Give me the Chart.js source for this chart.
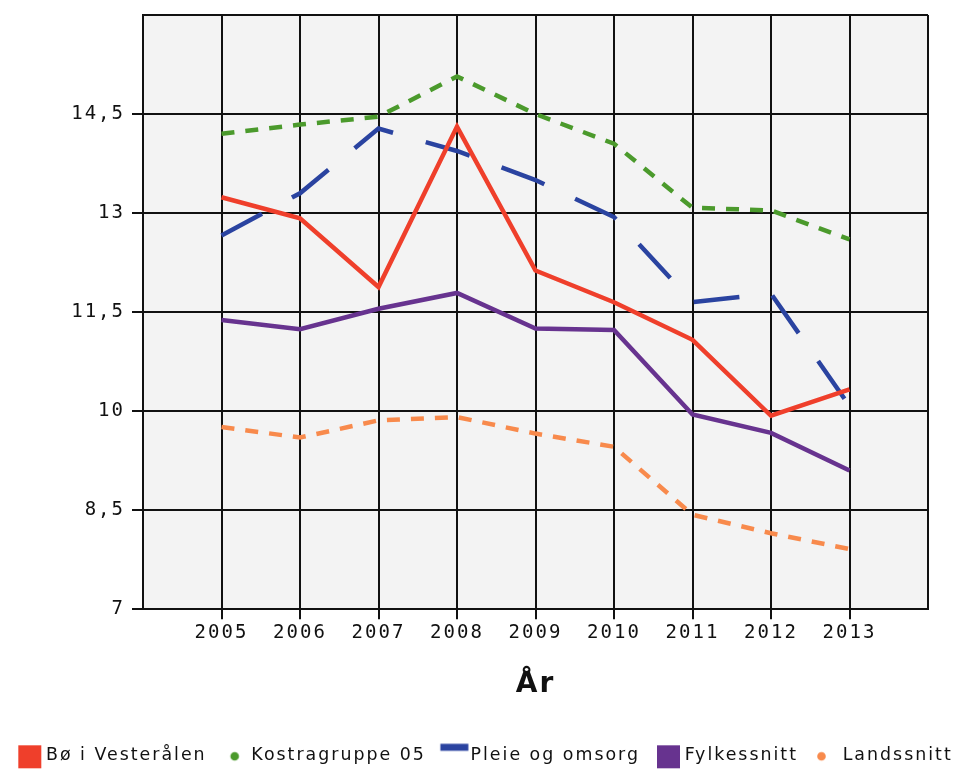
<!DOCTYPE html>
<html>
<head>
<meta charset="utf-8">
<title>År</title>
<script src="https://cdn.jsdelivr.net/npm/chart.js@4.4.0/dist/chart.umd.min.js"></script>
<style>
  html, body { margin: 0; padding: 0; background: #fff; }
  #wrap { width: 958px; height: 774px; }
</style>
</head>
<body>
<div id="wrap"><canvas id="myChart" width="958" height="774"></canvas></div>
<script>
// -- ** data ** -- \\
const years = [2005, 2006, 2007, 2008, 2009, 2010, 2011, 2012, 2013];
const boVesteralen = [13.24, 12.92, 11.88, 14.31, 12.13, 11.65, 11.08, 9.93, 10.33];
const kostragruppe05 = [14.20, 14.34, 14.46, 15.07, 14.50, 14.05, 13.08, 13.04, 12.60];
const pleieOmsorg = [12.66, 13.30, 14.28, 13.94, 13.50, 12.94, 11.65, 11.78, 10.08];
const fylkessnitt = [11.38, 11.24, 11.55, 11.79, 11.25, 11.23, 9.95, 9.67, 9.10];
const landssnitt = [9.76, 9.60, 9.86, 9.91, 9.66, 9.46, 8.43, 8.15, 7.91];
const seriesNames = ['Bø i Vesterålen', 'Kostragruppe 05', 'Pleie og omsorg', 'Fylkessnitt', 'Landssnitt'];
const xTickValues = [2004, 2005, 2006, 2007, 2008, 2009, 2010, 2011, 2012, 2013, 2014];
const yTickValues = [7, 8.5, 10, 11.5, 13, 14.5, 16];
const xTitle = 'År';

const inkColor = '#111';
const gridColor = '#111';

// -- ** legend markers ** -- \\
function makeMarker(kind, color) {
  const c = document.createElement('canvas');
  c.width = 64;
  c.height = 32;
  const g = c.getContext('2d');
  g.fillStyle = color;
  if (kind === 'square') {
    g.fillRect(29, 6, 23, 23);
  } else if (kind === 'bar') {
    g.fillRect(26.5, 4.5, 28, 7);
  } else {
    g.beginPath();
    g.arc(kind === 'dot1' ? 40 : 35.5, 17, 4.3, 0, Math.PI * 2);
    g.fill();
  }
  return c;
}

function points(values) {
  return years.map((yr, i) => ({ x: yr, y: values[i] }));
}

const colors = ['#ef3f2b', '#4b9a2c', '#2a43a0', '#67338f', '#f88a4c'];
const markers = [
  makeMarker('square', colors[0]),
  makeMarker('dot1', colors[1]),
  makeMarker('bar', colors[2]),
  makeMarker('square', colors[3]),
  makeMarker('dot2', colors[4])
];

const datasets = {
  datasets: [
    { label: seriesNames[0], data: points(boVesteralen), borderColor: colors[0] },
    { label: seriesNames[1], data: points(kostragruppe05), borderColor: colors[1], borderDash: [13, 11] },
    { label: seriesNames[2], data: points(pleieOmsorg), borderColor: colors[2], borderDash: [46, 34] },
    { label: seriesNames[3], data: points(fylkessnitt), borderColor: colors[3] },
    { label: seriesNames[4], data: points(landssnitt), borderColor: colors[4], borderDash: [13, 11] }
  ].map(ds => Object.assign({
    borderWidth: 4.5,
    pointRadius: 0,
    tension: 0,
    fill: false,
    borderJoinStyle: 'miter',
    backgroundColor: ds.borderColor
  }, ds))
};

// -- ** plot background + letter spacing ** -- \\
const plotLook = {
  id: 'plotLook',
  beforeLayout(chart) {
    chart.ctx.letterSpacing = '2px';
  },
  beforeDraw(chart) {
    const { ctx, chartArea: a } = chart;
    ctx.letterSpacing = '2px';
    ctx.save();
    ctx.fillStyle = '#f3f3f3';
    ctx.fillRect(a.left, a.top, a.right - a.left, a.bottom - a.top);
    ctx.restore();
  }
};

const tickFont = { family: 'DejaVu Sans Mono', size: 19 };

const config = {
  type: 'line',
  data: datasets,
  plugins: [plotLook],
  options: {
    responsive: false,
    animation: false,
    layout: { padding: { top: 15, left: 0, right: 0, bottom: 0 } },
    plugins: {
      tooltip: { enabled: false },
      legend: {
        position: 'bottom',
        labels: {
          usePointStyle: true,
          pointStyleWidth: 32,
          padding: 4,
          color: inkColor,
          font: { family: 'DejaVu Sans', size: 17.4 },
          generateLabels: chart => chart.data.datasets.map((ds, i) => ({
            text: ds.label,
            pointStyle: markers[i],
            fillStyle: ds.borderColor,
            strokeStyle: ds.borderColor,
            lineWidth: 0,
            hidden: false,
            datasetIndex: i,
            fontColor: inkColor
          }))
        }
      }
    },
    scales: {
      x: {
        type: 'linear',
        min: 2004,
        max: 2014,
        afterBuildTicks: s => { s.ticks = xTickValues.map(v => ({ value: v })); },
        ticks: {
          autoSkip: false,
          maxRotation: 0,
          padding: 2,
          color: inkColor,
          font: tickFont,
          callback: v => (v === 2004 || v === 2014) ? '' : String(v)
        },
        grid: {
          color: gridColor,
          lineWidth: 2,
          tickLength: 10,
          tickWidth: 2,
          tickColor: c => (c.tick && (c.tick.value === 2004 || c.tick.value === 2014)) ? 'rgba(0,0,0,0)' : gridColor
        },
        border: { color: gridColor, width: 2 },
        title: {
          display: true,
          text: xTitle,
          color: inkColor,
          font: { family: 'DejaVu Sans', size: 28, weight: 'bold' },
          padding: { top: 22, bottom: 41 }
        }
      },
      y: {
        min: 7,
        max: 16,
        afterBuildTicks: s => { s.ticks = yTickValues.map(v => ({ value: v })); },
        afterFit: s => { s.width = 143; s.paddingTop = 0; },
        ticks: {
          padding: 7,
          color: inkColor,
          font: tickFont,
          callback: v => v === 16 ? '' : String(v).replace('.', ',')
        },
        grid: {
          color: gridColor,
          lineWidth: 2,
          tickLength: 11,
          tickWidth: 2,
          tickColor: c => (c.tick && c.tick.value === 16) ? 'rgba(0,0,0,0)' : gridColor
        },
        border: { color: gridColor, width: 2 }
      },
      yRight: {
        position: 'right',
        min: 7,
        max: 16,
        ticks: { display: false },
        grid: { display: false, drawTicks: false },
        border: { display: false },
        afterFit: s => { s.width = 30; s.paddingTop = 0; }
      }
    }
  }
};

const myChart = document.getElementById('myChart');
window.myChart = new Chart(myChart, config);
</script>
</body>
</html>
